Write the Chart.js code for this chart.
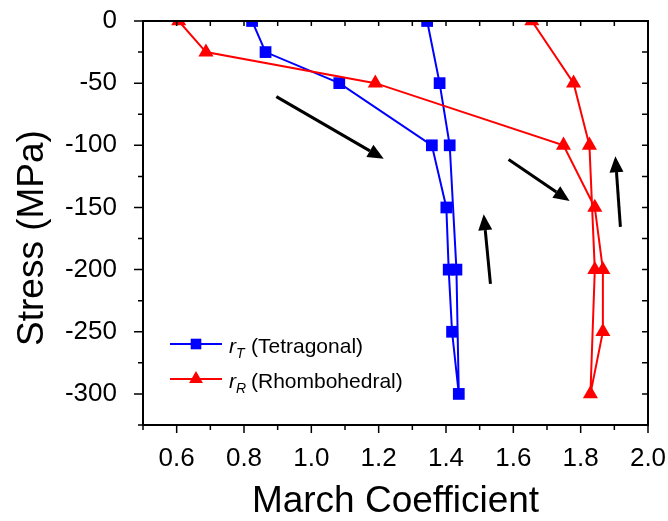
<!DOCTYPE html>
<html>
<head>
<meta charset="utf-8">
<script src="https://cdn.jsdelivr.net/npm/chart.js@4.4.1/dist/chart.umd.min.js"></script>
<style>
html,body{margin:0;padding:0;background:#fff;}
canvas{display:block;}
</style>
</head>
<body>
<canvas id="marchChart" width="668" height="521"></canvas>
<script>
// stress path: loading down to -300 MPa then unloading back to 0
const stressT=[0,-25,-50,-100,-150,-200,-250,-300,-200,-100,-50,0];
const coefT=[0.824,0.864,1.083,1.358,1.401,1.408,1.418,1.438,1.431,1.411,1.381,1.344];
const stressR=[0,-25,-50,-100,-150,-200,-250,-300,-200,-100,-50,0];
const coefR=[0.606,0.687,1.19,1.749,1.842,1.866,1.866,1.829,1.842,1.826,1.779,1.655];

// arrows in data units: x0,y0 -> x1,y1 (tip)
const arrows=[
[0.896,-60.8,1.215,-110.9],
[1.532,-211.4,1.512,-155.4],
[1.586,-111.4,1.767,-144.8],
[1.918,-165.6,1.903,-108.8]
];

const FONT="'Liberation Sans', Arial, sans-serif";
Chart.defaults.font.family=FONT;
Chart.defaults.color="#000";

function pts(xs,ys){
return xs.map((v,i)=>({x:v,y:ys[i]}));
}

function drawMarker(ctx,type,x,y,r,color){
ctx.fillStyle=color;
ctx.beginPath();
if(type==="rect"){
const s=r*Math.SQRT1_2;
ctx.rect(x-s,y-s,2*s,2*s);
}else{
ctx.moveTo(x,y-r);
ctx.lineTo(x+r*0.866,y+r/2);
ctx.lineTo(x-r*0.866,y+r/2);
ctx.closePath();
}
ctx.fill();
}

const extras={
id:"extras",
afterDatasetsDraw(chart){
const ctx=chart.ctx,x=chart.scales.x,y=chart.scales.y;
ctx.save();
ctx.strokeStyle="#000";
ctx.fillStyle="#000";
ctx.lineWidth=3;
arrows.forEach(a=>{
const x0=x.getPixelForValue(a[0]),y0=y.getPixelForValue(a[1]);
const x1=x.getPixelForValue(a[2]),y1=y.getPixelForValue(a[3]);
const ang=Math.atan2(y1-y0,x1-x0);
const hl=16,hw=7;
const bx=x1-hl*Math.cos(ang),by=y1-hl*Math.sin(ang);
ctx.beginPath();
ctx.moveTo(x0,y0);
ctx.lineTo(bx,by);
ctx.stroke();
ctx.beginPath();
ctx.moveTo(x1,y1);
ctx.lineTo(bx+hw*Math.sin(ang),by-hw*Math.cos(ang));
ctx.lineTo(bx-hw*Math.sin(ang),by+hw*Math.cos(ang));
ctx.closePath();
ctx.fill();
});
ctx.restore();
},
afterDraw(chart){
const ctx=chart.ctx,a=chart.chartArea,x=chart.scales.x,y=chart.scales.y;
ctx.save();
ctx.strokeStyle="#000";
ctx.lineWidth=1.5;
ctx.beginPath();
x.ticks.forEach(t=>{
const px=x.getPixelForValue(t.value);
const major=Math.round(t.value*10)%2===0;
ctx.moveTo(px,a.bottom);
ctx.lineTo(px,a.bottom+(major?8:5));
ctx.moveTo(px,a.top);
ctx.lineTo(px,a.top+5);
});
y.ticks.forEach(t=>{
const py=y.getPixelForValue(t.value);
const major=t.value%50===0;
ctx.moveTo(a.left,py);
ctx.lineTo(a.left-(major?9:5),py);
ctx.moveTo(a.right,py);
ctx.lineTo(a.right-6,py);
});
ctx.stroke();
ctx.lineWidth=2;
ctx.strokeRect(a.left,a.top,a.right-a.left,a.bottom-a.top);

// y title
ctx.save();
ctx.translate(33,238);
ctx.rotate(-Math.PI/2);
ctx.font="37px "+FONT;
ctx.fillStyle="#000";
ctx.textAlign="center";
ctx.textBaseline="middle";
ctx.fillText("Stress (MPa)",0,0);
ctx.restore();

// legend
const rows=[
{c:"#0000ff",m:"rect",r:7.5,sub:"T",txt:"(Tetragonal)",y:344},
{c:"#ff0000",m:"tri",r:8,sub:"R",txt:"(Rhombohedral)",y:379}
];
rows.forEach(row=>{
ctx.strokeStyle=row.c;
ctx.lineWidth=2;
ctx.beginPath();
ctx.moveTo(170,row.y);
ctx.lineTo(222,row.y);
ctx.stroke();
drawMarker(ctx,row.m,196,row.y,row.r,row.c);
ctx.fillStyle="#000";
ctx.textAlign="left";
ctx.textBaseline="alphabetic";
ctx.font="italic 21px "+FONT;
ctx.fillText("r",229,row.y+9);
ctx.font="italic 14px "+FONT;
ctx.fillText(row.sub,236,row.y+14);
ctx.font="21px "+FONT;
ctx.fillText(row.txt,251,row.y+9);
});
ctx.restore();
}
};

new Chart(document.getElementById("marchChart"),{
type:"scatter",
data:{
datasets:[{
label:"rT (Tetragonal)",
data:pts(coefT,stressT),
showLine:true,
borderColor:"#0000ff",
backgroundColor:"#0000ff",
borderWidth:2,
pointStyle:"rect",
pointRadius:8.3,
pointBorderWidth:0,
order:2
},{
label:"rR (Rhombohedral)",
data:pts(coefR,stressR),
showLine:true,
borderColor:"#ff0000",
backgroundColor:"#ff0000",
borderWidth:2,
pointStyle:"triangle",
pointRadius:8.7,
pointBorderWidth:0,
order:1
}]
},
options:{
responsive:false,
animation:false,
layout:{padding:{left:0,top:21,right:20,bottom:0}},
plugins:{legend:{display:false},tooltip:{enabled:false}},
scales:{
x:{
type:"linear",
min:0.5,
max:2.0,
grid:{display:false},
border:{display:false},
ticks:{
stepSize:0.1,
autoSkip:false,
maxRotation:0,
padding:10,
font:{size:26,lineHeight:1.2},
callback:v=>{
const n=Math.round(v*10);
return n%2===0?(n/10).toFixed(1):"";
}
},
title:{display:true,text:"March Coefficient",font:{size:37,lineHeight:1},padding:{top:0,bottom:1}},
afterFit(s){s.height=96;s.paddingLeft=0;s.paddingRight=0;}
},
y:{
type:"linear",
min:-325,
max:0,
grid:{display:false},
border:{display:false},
ticks:{
stepSize:25,
autoSkip:false,
padding:18,
font:{size:26},
callback:v=>v%50===0?String(v):""
},
afterFit(s){s.width=143;s.paddingTop=0;s.paddingBottom=0;}
}
}
},
plugins:[extras]
});
</script>
</body>
</html>
